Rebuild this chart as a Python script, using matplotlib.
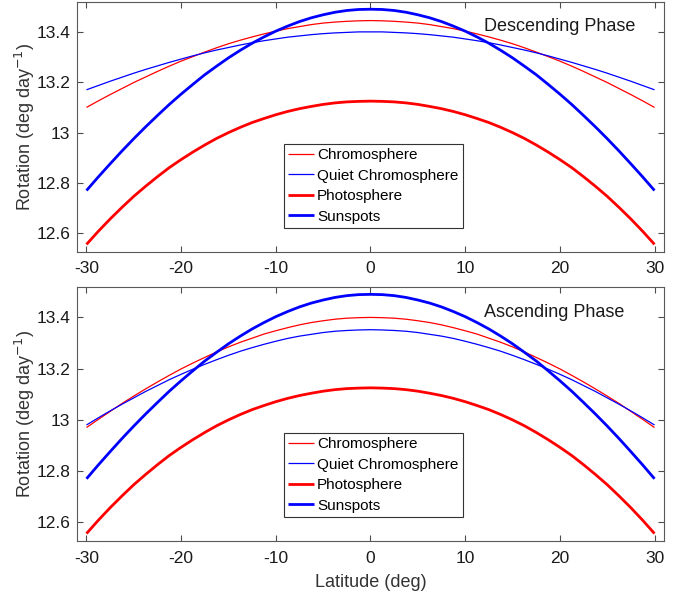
import matplotlib.pyplot as plt

plt.rcParams['font.family'] = ['Liberation Sans', 'DejaVu Sans']
plt.rcParams['axes.unicode_minus'] = False

# latitude grid (deg)
latitude = [-30, -28.75, -27.5, -26.25, -25, -23.75, -22.5, -21.25, -20, -18.75,
            -17.5, -16.25, -15, -13.75, -12.5, -11.25, -10, -8.75, -7.5, -6.25,
            -5, -3.75, -2.5, -1.25, 0, 1.25, 2.5, 3.75, 5, 6.25, 7.5, 8.75, 10,
            11.25, 12.5, 13.75, 15, 16.25, 17.5, 18.75, 20, 21.25, 22.5, 23.75,
            25, 26.25, 27.5, 28.75, 30]

# descending phase (deg/day)
desc_chromo = [13.100, 13.126, 13.151, 13.175, 13.199, 13.221, 13.243, 13.264, 13.284,
               13.302, 13.320, 13.337, 13.353, 13.367, 13.380, 13.392, 13.403, 13.413,
               13.421, 13.429, 13.435, 13.439, 13.442, 13.444, 13.445, 13.444, 13.442,
               13.439, 13.435, 13.429, 13.421, 13.413, 13.403, 13.392, 13.380, 13.367,
               13.353, 13.337, 13.320, 13.302, 13.284, 13.264, 13.243, 13.221, 13.199,
               13.175, 13.151, 13.126, 13.100]
desc_quiet = [13.170, 13.187, 13.204, 13.220, 13.236, 13.251, 13.265, 13.279, 13.292,
              13.305, 13.317, 13.328, 13.338, 13.348, 13.357, 13.365, 13.372, 13.379,
              13.384, 13.389, 13.393, 13.396, 13.398, 13.400, 13.400, 13.400, 13.398,
              13.396, 13.393, 13.389, 13.384, 13.379, 13.372, 13.365, 13.357, 13.348,
              13.338, 13.328, 13.317, 13.305, 13.292, 13.279, 13.265, 13.251, 13.236,
              13.220, 13.204, 13.187, 13.170]

# ascending phase (deg/day)
asc_chromo = [12.970, 13.002, 13.033, 13.064, 13.093, 13.121, 13.148, 13.174, 13.199,
              13.222, 13.244, 13.265, 13.285, 13.303, 13.319, 13.335, 13.348, 13.360,
              13.371, 13.380, 13.387, 13.393, 13.397, 13.399, 13.400, 13.399, 13.397,
              13.393, 13.387, 13.380, 13.371, 13.360, 13.348, 13.335, 13.319, 13.303,
              13.285, 13.265, 13.244, 13.222, 13.199, 13.174, 13.148, 13.121, 13.093,
              13.064, 13.033, 13.002, 12.970]
asc_quiet = [12.980, 13.008, 13.035, 13.061, 13.086, 13.111, 13.134, 13.157, 13.178,
             13.198, 13.217, 13.235, 13.252, 13.268, 13.282, 13.295, 13.307, 13.318,
             13.327, 13.334, 13.341, 13.346, 13.349, 13.351, 13.352, 13.351, 13.349,
             13.346, 13.341, 13.334, 13.327, 13.318, 13.307, 13.295, 13.282, 13.268,
             13.252, 13.235, 13.217, 13.198, 13.178, 13.157, 13.134, 13.111, 13.086,
             13.061, 13.035, 13.008, 12.980]

# same curves in both phases
photosphere = [12.556, 12.608, 12.657, 12.703, 12.747, 12.787, 12.825, 12.861, 12.893,
               12.923, 12.951, 12.977, 13.000, 13.021, 13.040, 13.056, 13.071, 13.084,
               13.095, 13.104, 13.112, 13.118, 13.122, 13.124, 13.125, 13.124, 13.122,
               13.118, 13.112, 13.104, 13.095, 13.084, 13.071, 13.056, 13.040, 13.021,
               13.000, 12.977, 12.951, 12.923, 12.893, 12.861, 12.825, 12.787, 12.747,
               12.703, 12.657, 12.608, 12.556]
sunspots = [12.770, 12.824, 12.876, 12.927, 12.976, 13.023, 13.068, 13.112, 13.153,
            13.192, 13.230, 13.264, 13.297, 13.327, 13.355, 13.380, 13.403, 13.423,
            13.441, 13.456, 13.468, 13.478, 13.485, 13.489, 13.490, 13.489, 13.485,
            13.478, 13.468, 13.456, 13.441, 13.423, 13.403, 13.380, 13.355, 13.327,
            13.297, 13.264, 13.230, 13.192, 13.153, 13.112, 13.068, 13.023, 12.976,
            12.927, 12.876, 12.824, 12.770]

panels = [
    ('Descending Phase', desc_chromo, desc_quiet),
    ('Ascending Phase', asc_chromo, asc_quiet),
]

fig = plt.figure(figsize=(6.87, 5.99), dpi=100)
ax_top = fig.add_axes([0.1121, 0.5798, 0.8544, 0.4174])
ax_bot = fig.add_axes([0.1121, 0.0968, 0.8544, 0.4246])

for ax, (title, chromo, quiet) in zip([ax_top, ax_bot], panels):
    kw = dict(solid_joinstyle='round', solid_capstyle='butt')
    ax.plot(latitude, chromo, color='red', lw=0.9, label='Chromosphere', **kw)
    ax.plot(latitude, quiet, color='blue', lw=0.9, label='Quiet Chromosphere', **kw)
    ax.plot(latitude, photosphere, color='red', lw=2, label='Photosphere', **kw)
    ax.plot(latitude, sunspots, color='blue', lw=2, label='Sunspots', **kw)

    ax.set_xlim(-31, 31)
    ax.set_ylim(12.527, 13.52)
    ax.set_xticks([-30, -20, -10, 0, 10, 20, 30])
    ax.set_yticks([12.6, 12.8, 13, 13.2, 13.4])
    ax.set_yticklabels(['12.6', '12.8', '13', '13.2', '13.4'])
    ax.tick_params(direction='in', top=True, right=True, length=4, width=0.8,
                   labelsize=12.5, color='0.3', labelcolor='0.1')
    ax.tick_params(axis='x', pad=7)
    ax.tick_params(axis='y', pad=5)
    for sp in ax.spines.values():
        sp.set_color('0.35')
        sp.set_linewidth(0.8)

    ax.text(12.0, 13.42, title, fontsize=13, va='center', ha='left', color='0.1')
    ax.set_ylabel('Rotation (deg day$^{-1}$)', fontsize=13, color='0.2')
    ax.yaxis.set_label_coords(-0.068, 0.5)

    leg = ax.legend(loc='lower left', bbox_to_anchor=(0.352, 0.094), borderaxespad=0,
                    fontsize=11, fancybox=False, framealpha=1, edgecolor='0.2',
                    handlelength=1.7, handletextpad=0.2, labelspacing=0.42,
                    borderpad=0.3)
    leg.get_frame().set_linewidth(0.8)

ax_bot.set_xlabel('Latitude (deg)', fontsize=13, color='0.2', labelpad=6)

fig.savefig('out.png', dpi=100)
plt.close(fig)
